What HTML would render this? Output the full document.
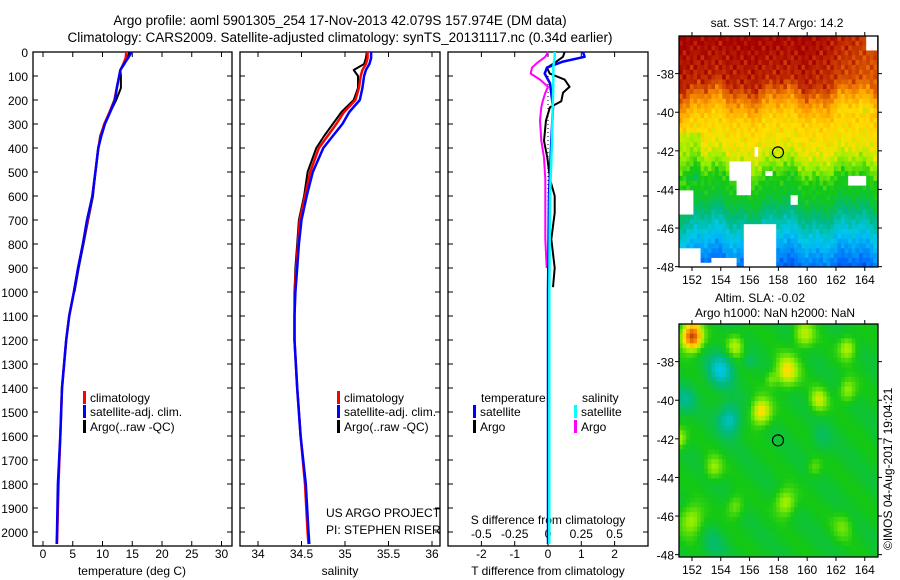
<!DOCTYPE html>
<html><head><meta charset="utf-8">
<style>
html,body{margin:0;padding:0;background:#fff;}
svg{display:block;font-family:"Liberation Sans",sans-serif;}
text{fill:#000;}
</style></head>
<body>
<svg id="fig" width="900" height="580" viewBox="0 0 900 580">
<g font-size="13.5">
<text x="340" y="25" text-anchor="middle">Argo profile: aoml 5901305_254 17-Nov-2013 42.079S 157.974E (DM data)</text>
<text x="340" y="42" text-anchor="middle">Climatology: CARS2009. Satellite-adjusted climatology: synTS_20131117.nc (0.34d earlier)</text>
</g>
<g id="p1"></g>
<g id="p2"></g>
<g id="p3"></g>
<g id="m1"></g>
<g id="m2"></g>
<text transform="translate(892,550) rotate(-90)" font-size="12">©IMOS 04-Aug-2017 19:04:21</text>
</svg>
<script>
// ---- profile data ----
const depths = [0,25,50,75,100,150,200,250,300,350,400,500,600,700,800,900,1000,1100,1200,1400,1600,1800,2000,2050];
const tempClim = [14.0,13.9,13.5,13.0,12.8,12.4,12.0,11.2,10.3,9.7,9.3,8.8,8.3,7.5,6.7,5.9,5.2,4.4,3.9,3.2,2.9,2.6,2.4,2.35];
const tempSat = [14.9,14.3,13.6,13.0,12.8,12.4,12.1,11.3,10.4,9.8,9.3,8.8,8.3,7.4,6.7,5.9,5.2,4.4,3.9,3.2,2.9,2.5,2.35,2.3];
const argoDepths = [0,25,50,75,100,150,200,250,300,350,400,500,600,700,800,900,1000];
const tempArgo = [14.5,14.2,13.7,13.0,13.1,13.1,12.3,11.3,10.3,9.6,9.3,8.8,8.4,7.6,6.8,6.0,5.3];
const salClim = [35.26,35.26,35.24,35.20,35.18,35.16,35.12,34.99,34.90,34.80,34.70,34.60,34.54,34.48,34.46,34.44,34.42,34.42,34.42,34.45,34.49,34.54,34.57,34.58];
const salSat = [35.30,35.30,35.28,35.24,35.22,35.20,35.17,35.05,34.97,34.86,34.75,34.63,34.56,34.50,34.47,34.45,34.43,34.42,34.42,34.45,34.49,34.55,34.58,34.59];
const salArgo = [35.25,35.24,35.22,35.10,35.15,35.15,35.10,34.96,34.86,34.76,34.67,34.57,34.53,34.47,34.45,34.43,34.42];
const diffDepths = [0,20,45,65,90,115,145,170,205,230,285,370,440,530,600,670,780,900,980];
const tArgoDiff = [0.5,0.45,0.2,-0.03,0.05,0.5,0.65,0.45,0.4,0.06,-0.06,-0.12,-0.02,0.06,0.2,0.2,0.1,0.2,0.15];
const sArgoDiff = [0,-0.02,-0.08,-0.12,-0.13,-0.06,0,-0.02,-0.04,-0.05,-0.06,-0.05,-0.03,-0.02,-0.02,-0.02,-0.02,-0.01,-0.01];
const satDepths = [0,20,40,65,90,130,230,370,600,1000,1500,2050];
const tSatDiff = [1.05,1.1,0.45,-0.03,-0.1,0.06,0.15,0.1,0.03,0.0,0.0,0.0];
const sSatDiff = [0.05,0.05,0.045,0.04,0.04,0.04,0.035,0.03,0.015,0.01,0.01,0.01];
const depthTicks = [0,100,200,300,400,500,600,700,800,900,1000,1100,1200,1300,1400,1500,1600,1700,1800,1900,2000];
const tempTicks = [0,5,10,15,20,25,30];
const salTicks = [34,34.5,35,35.5,36];
const salTickLabels = ["34","34.5","35","35.5","36"];
const tDiffTicks = [-2,-1,0,1,2];
const sDiffTicks = [-0.5,-0.25,0,0.25,0.5];
const sDiffLabels = ["-0.5","-0.25","0","0.25","0.5"];
const lonTicks = [152,154,156,158,160,162,164];
const latTicks = [-38,-40,-42,-44,-46,-48];
const argoLon = 157.974, argoLat = -42.079;

const NS = "http://www.w3.org/2000/svg";
const FS = 12;
function mk(parent, tag, attrs, txt){
  const e = document.createElementNS(NS, tag);
  for (const k in attrs) e.setAttribute(k, attrs[k]);
  if (txt !== undefined) e.textContent = txt;
  parent.appendChild(e);
  return e;
}
const TOP = 52, BOT = 546;
const yD = d => TOP + d*0.24;
const xT = t => 43 + t*5.95;
const xS = s => 258 + (s-34)*87;
const xTD = t => 548 + t*33.3;
const xSD = s => 548 + s*133.2;

function frame(g, x0, x1){
  const r = mk(g,'rect',{x:x0,y:TOP,width:x1-x0,height:BOT-TOP,fill:'none',stroke:'#000','stroke-width':1.3});
  
  
  depthTicks.forEach(d=>{
    const t1 = mk(g,'line',{x1:x0,x2:x0+5,y1:yD(d),y2:yD(d),stroke:'#000'});
    
    
    const t2 = mk(g,'line',{x1:x1,x2:x1-5,y1:yD(d),y2:yD(d),stroke:'#000'});
    
    
  });
}
function xticks(g, vals, labels, fx, ly){
  vals.forEach((v,i)=>{
    const x = fx(v);
    const a = mk(g,'line',{x1:x,x2:x,y1:TOP,y2:TOP+5,stroke:'#000'});
    
    
    const b = mk(g,'line',{x1:x,x2:x,y1:BOT,y2:BOT-5,stroke:'#000'});
    
    
    const t = mk(g,'text',{x:x,y:ly,'text-anchor':'middle','font-size':FS},labels[i]);
    
    
  });
}
function line(g, ds, vs, fx, color, w, name, dash){
  const pts = ds.map((d,i)=>fx(vs[i]).toFixed(1)+','+yD(d).toFixed(1)).join(' ');
  const attrs = {points:pts,fill:'none',stroke:color,'stroke-width':w,'stroke-linejoin':'round'};
  if (dash) attrs['stroke-dasharray']=dash;
  const p = mk(g,'polyline',attrs);
  
  
}
function legend(g, x, y, color, label){
  const r = mk(g,'rect',{x:x,y:y-11,width:3,height:13,fill:color});
  
  
  const t = mk(g,'text',{x:x+7,y:y,'font-size':FS},label);
  
  
}

// Panel 1
const p1 = document.getElementById('p1');
frame(p1, 33, 232);
depthTicks.forEach(d=>{
  const t = mk(p1,'text',{x:28,y:yD(d)+5,'text-anchor':'end','font-size':FS},String(d));
  
  
});
xticks(p1, tempTicks, tempTicks.map(String), xT, 558);
line(p1, argoDepths, tempArgo, xT, '#000', 2, 'temp-argo-line');
line(p1, depths, tempClim, xT, '#f00', 2.5, 'temp-climatology-line');
line(p1, depths, tempSat, xT, '#00f', 2.5, 'temp-satellite-line');
{ const t = mk(p1,'text',{x:132,y:575,'text-anchor':'middle','font-size':FS},'temperature (deg C)');
    }
legend(p1, 83, 402, '#f00', 'climatology');
legend(p1, 83, 416, '#00f', 'satellite-adj. clim.');
legend(p1, 83, 431, '#000', 'Argo(..raw -QC)');

// Panel 2
const p2 = document.getElementById('p2');
frame(p2, 240, 440);
xticks(p2, salTicks, salTickLabels, xS, 558);
line(p2, argoDepths, salArgo, xS, '#000', 2, 'salinity-argo-line');
line(p2, depths, salClim, xS, '#f00', 2.5, 'salinity-climatology-line');
line(p2, depths, salSat, xS, '#00f', 2.5, 'salinity-satellite-line');
{ const t = mk(p2,'text',{x:340,y:575,'text-anchor':'middle','font-size':FS},'salinity');
    }
legend(p2, 337, 402, '#f00', 'climatology');
legend(p2, 337, 416, '#00f', 'satellite-adj. clim.');
legend(p2, 337, 431, '#000', 'Argo(..raw -QC)');
{ const a = mk(p2,'text',{x:326,y:517,'font-size':FS},'US ARGO PROJECT');
   
  const b = mk(p2,'text',{x:326,y:534,'font-size':FS},'PI: STEPHEN RISER');
    }

// Panel 3
const p3 = document.getElementById('p3');
frame(p3, 448, 648);
xticks(p3, tDiffTicks, tDiffTicks.map(String), xTD, 558);
sDiffTicks.forEach((v,i)=>{
  const t = mk(p3,'text',{x:xSD(v),y:538,'text-anchor':'middle','font-size':FS},sDiffLabels[i]);
  
  
});
{ const t = mk(p3,'text',{x:548,y:524,'text-anchor':'middle','font-size':FS},'S difference from climatology');
   
  const u = mk(p3,'text',{x:548,y:575,'text-anchor':'middle','font-size':FS},'T difference from climatology');
    }
{ const z = mk(p3,'line',{x1:xTD(0),x2:xTD(0),y1:yD(100),y2:yD(2000),stroke:'#000','stroke-width':1,'stroke-dasharray':'1,3'});
    }
line(p3, diffDepths.slice(0,18), sArgoDiff.slice(0,18), xSD, '#f0f', 2, 's-argo-diff-line');
line(p3, diffDepths, tArgoDiff, xTD, '#000', 2, 't-argo-diff-line');
line(p3, satDepths, tSatDiff, xTD, '#00f', 2.5, 't-satellite-diff-line');
line(p3, satDepths, sSatDiff, xSD, '#0ff', 2.5, 's-satellite-diff-line');
{ const t = mk(p3,'text',{x:481,y:402,'font-size':FS},'temperature');
   
  const s = mk(p3,'text',{x:582,y:402,'font-size':FS},'salinity');
    }
legend(p3, 473, 416, '#00f', 'satellite');
legend(p3, 473, 431, '#000', 'Argo');
legend(p3, 574, 416, '#0ff', 'satellite');
legend(p3, 574, 431, '#f0f', 'Argo');

// ---- maps ----
const cmapStops = [[0,[0,20,170]],[0.15,[0,110,255]],[0.3,[0,200,240]],[0.42,[0,185,130]],[0.55,[20,200,20]],[0.65,[150,240,0]],[0.73,[255,225,0]],[0.83,[255,160,0]],[0.91,[220,90,0]],[1,[165,0,0]]];
function cmap(v){
  v = Math.max(0,Math.min(1,v));
  for (let i=1;i<cmapStops.length;i++){
    if (v<=cmapStops[i][0]){
      const a=cmapStops[i-1], b=cmapStops[i], f=(v-a[0])/(b[0]-a[0]);
      return 'rgb('+a[1].map((c,k)=>Math.round(c+(b[1][k]-c)*f)).join(',')+')';
    }
  }
  return 'rgb(165,0,0)';
}
const sstLatLevels = [-36,-38.5,-39.5,-40.3,-42,-42.8,-43.5,-44.5,-45.2,-46,-47,-48.3];
const sstLevelVals = [1.0,0.96,0.84,0.76,0.71,0.64,0.56,0.52,0.44,0.35,0.25,0.12];
const clouds = [[164.1,164.95,-36.05,-36.7],[154.6,156.1,-42.6,-43.5],[155.0,156.2,-43.5,-44.4],[156.3,156.7,-41.8,-42.3],[157.0,157.6,-43.0,-43.3],[162.8,164.2,-43.2,-43.9],[151.2,152.0,-44.1,-45.3],[158.8,159.4,-44.3,-44.8],[155.5,157.9,-45.7,-48.2],[151.2,152.5,-47.1,-48.2],[153.4,155.2,-47.5,-48.2],[152.5,153.4,-47.9,-48.2]];
const slaBlobs = [[152,-36.7,0.7,0.42],[155,-37.2,0.6,0.16],[159.8,-36.6,0.7,0.15],[162.8,-37.3,0.6,0.15],[158.6,-38.5,0.8,0.2],[156.8,-40.6,0.7,0.22],[160.8,-40,0.6,0.15],[162.8,-39.5,0.6,0.13],[151.1,-42,0.5,0.16],[153.5,-43.5,0.6,0.12],[158.5,-45.3,0.7,0.15],[155,-45.5,0.6,0.1],[152,-46.2,0.8,0.14],[162.5,-46.5,0.7,0.08],[160.5,-43.5,0.5,0.08],[157.5,-38.9,0.4,0.08],[154,-38.4,0.9,-0.2],[154.6,-41,0.8,-0.18],[151.5,-40,0.7,-0.12],[156,-38,0.4,-0.07],[161,-42,0.7,-0.06],[153.5,-47.5,0.8,-0.07]];

function mapPanel(gid, y0, y1, titleLines){
  const g = document.getElementById(gid);
  const x0=679, x1=878;
  const lat0=-36.05, lat1=lat0-(y1-y0)/19.3;
  const fx = lon => x0 + (lon-151.1)*14.4;
  const fy = lat => y0 + (lat0-lat)*19.3;
  const cells = mk(g,'g',{});
  
  
  const step=0.25;
  for (let lon=151.1; lon<164.9; lon+=step){
    for (let lat=lat0; lat>lat1; lat-=step){
      const cl = lon+step/2, ca = lat-step/2;
      let v, white=false;
      if (gid==='m1'){
        const c2 = ca + 0.3*Math.sin(cl*1.3) + 0.2*Math.sin(cl*3.7+1) + 0.1*Math.sin(cl*9.1+ca*2.3);
        let i=1; while(i<sstLatLevels.length-1 && c2<sstLatLevels[i]) i++;
        const a=sstLatLevels[i-1], b=sstLatLevels[i];
        const f=(c2-a)/(b-a);
        v = sstLevelVals[i-1]+(sstLevelVals[i]-sstLevelVals[i-1])*Math.max(0,Math.min(1,f));
        v += 0.02*Math.sin(cl*11.3+ca*7.1)+0.015*Math.sin(cl*17.9-ca*13.3);
        if (cl>160 && ca>-40) v -= 0.05*(cl-160)/4;
        if (cl<152.5 && ca<-41 && ca>-43.5) v -= 0.06;
        clouds.forEach(c=>{ if (cl>=c[0]&&cl<=c[1]&&ca<=c[2]&&ca>=c[3]) white=true; });
      } else {
        v = 0.53 + 0.02*Math.sin(cl*1.7+ca*2.1);
        slaBlobs.forEach(b=>{ const d2=((cl-b[0])**2+(ca-b[1])**2)/(b[2]*b[2]); v += b[3]*Math.exp(-d2); });
      }
      const h = Math.min(step, lat-lat1);
      const w = Math.min(step, 164.92-lon);
      const r = mk(cells,'rect',{x:fx(lon).toFixed(2),y:fy(lat).toFixed(2),width:(w*14.4+0.4).toFixed(2),height:(h*19.3+0.4).toFixed(2),fill:white?'#fff':cmap(v)});
      
      
    }
  }
  const fr = mk(g,'rect',{x:x0,y:y0,width:x1-x0,height:y1-y0,fill:'none',stroke:'#000','stroke-width':1.3});
  
  
  lonTicks.forEach(lon=>{
    const x=fx(lon);
    const a=mk(g,'line',{x1:x,x2:x,y1:y0,y2:y0-4,stroke:'#000'});
     
    const b=mk(g,'line',{x1:x,x2:x,y1:y1,y2:y1+4,stroke:'#000'});
     
    const t=mk(g,'text',{x:x,y:y1+17,'text-anchor':'middle','font-size':FS},String(lon));
     
  });
  latTicks.forEach(lat=>{
    const y=fy(lat);
    const a=mk(g,'line',{x1:x0,x2:x0-4,y1:y,y2:y,stroke:'#000'});
     
    const b=mk(g,'line',{x1:x1,x2:x1+4,y1:y,y2:y,stroke:'#000'});
     
    const t=mk(g,'text',{x:x0-5,y:y+5,'text-anchor':'end','font-size':FS},String(lat));
     
  });
  const c = mk(g,'circle',{cx:fx(argoLon),cy:fy(argoLat),r:5.5,fill:'none',stroke:'#000','stroke-width':1.2});
  
  
  titleLines.forEach(tl=>{
    const t=mk(g,'text',{x:tl[1],y:tl[2],'text-anchor':'middle','font-size':FS},tl[0]);
     
  });
}
mapPanel('m1', 36, 267, [['sat. SST: 14.7  Argo: 14.2', 777, 27]]);
mapPanel('m2', 324, 557, [['Altim. SLA: -0.02', 760, 302],['Argo h1000: NaN h2000: NaN', 775, 317]]);
</script>
</body></html>
